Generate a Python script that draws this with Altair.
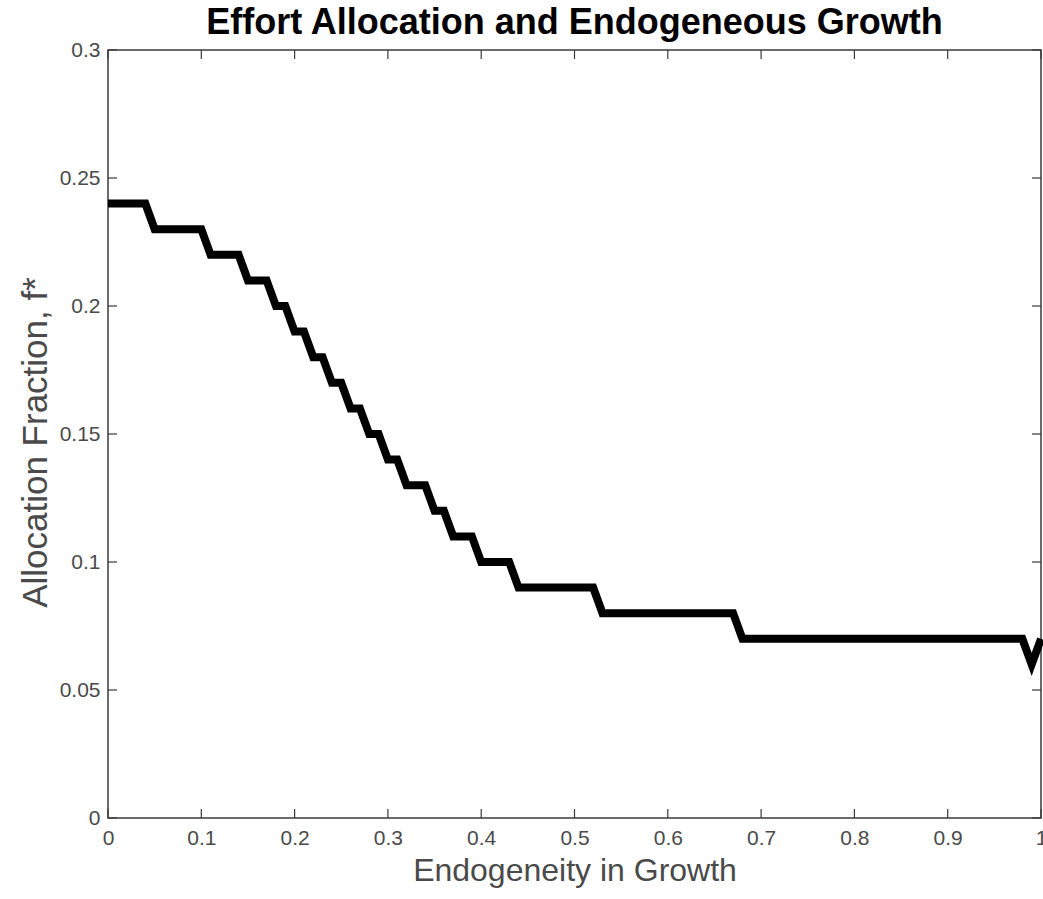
import altair as alt
import pandas as pd

# Sampled grid of endogeneity values (step 0.01)
endogeneity = [round(i / 100, 2) for i in range(101)]

# Allocation fraction f*
allocation = (
    [0.24] * 5 + [0.23] * 6 + [0.22] * 4 + [0.21] * 3 +
    [0.20] * 2 + [0.19] * 2 + [0.18] * 2 + [0.17] * 2 + [0.16] * 2 +
    [0.15] * 2 + [0.14] * 2 + [0.13] * 3 + [0.12] * 2 + [0.11] * 3 +
    [0.10] * 4 + [0.09] * 9 + [0.08] * 15 + [0.07] * 31 + [0.06] * 1 + [0.07] * 1
)

x_ticks = [0, 0.1, 0.2, 0.3, 0.4, 0.5, 0.6, 0.7, 0.8, 0.9, 1]
y_ticks = [0, 0.05, 0.1, 0.15, 0.2, 0.25, 0.3]

W, H = 933, 768
TICK = 9
AX = "#3a3a3a"
LBL = "#4a4a4a"
FONT = "Liberation Sans"

df = pd.DataFrame({"x": endogeneity, "y": allocation})
dfx = pd.DataFrame({"t": x_ticks})
dfy = pd.DataFrame({"t": y_ticks})

xscale = alt.Scale(domain=[0, 1], nice=False, zero=False)
yscale = alt.Scale(domain=[0, 0.3], nice=False, zero=False)

xaxis = alt.Axis(title="Endogeneity in Growth", values=x_ticks, format="~g",
                 ticks=False, domain=False, grid=False, labelPadding=9,
                 labelFontSize=21, labelColor=LBL, labelFont=FONT,
                 titleFontSize=32, titleFont=FONT, titleFontWeight="normal",
                 titleColor=LBL, titleY=62, titleBaseline="alphabetic",
                 labelFlush=False)
yaxis = alt.Axis(title="Allocation Fraction, f*", values=y_ticks, format="~g",
                 ticks=False, domain=False, grid=False, labelPadding=8,
                 labelFontSize=21, labelColor=LBL, labelFont=FONT,
                 titleFontSize=35, titleFont=FONT, titleFontWeight="normal",
                 titleColor=LBL, titleX=-73, titleY=392, titleBaseline="middle",
                 labelFlush=False)

line = alt.Chart(df).mark_line(color="black", strokeWidth=8, clip=False).encode(
    x=alt.X("x:Q", scale=xscale, axis=xaxis),
    y=alt.Y("y:Q", scale=yscale, axis=yaxis),
)

tick_style = dict(color=AX, strokeWidth=1.2)

bottom_ticks = alt.Chart(dfx).mark_rule(**tick_style).encode(
    x=alt.X("t:Q", scale=xscale, axis=xaxis), y=alt.value(H), y2=alt.value(H - TICK))
top_ticks = alt.Chart(dfx).mark_rule(**tick_style).encode(
    x=alt.X("t:Q", scale=xscale, axis=xaxis), y=alt.value(0), y2=alt.value(TICK))
left_ticks = alt.Chart(dfy).mark_rule(**tick_style).encode(
    y=alt.Y("t:Q", scale=yscale, axis=yaxis), x=alt.value(0), x2=alt.value(TICK))
right_ticks = alt.Chart(dfy).mark_rule(**tick_style).encode(
    y=alt.Y("t:Q", scale=yscale, axis=yaxis), x=alt.value(W), x2=alt.value(W - TICK))

chart = alt.layer(line, bottom_ticks, top_ticks, left_ticks, right_ticks).properties(
    width=W, height=H,
    title=alt.Title("Effort Allocation and Endogeneous Growth", fontSize=36,
                    fontWeight="bold", font=FONT, color="black", anchor="middle",
                    offset=-3),
    autosize=alt.AutoSizeParams(type="none"),
    padding={"left": 108, "top": 50, "right": 2, "bottom": 81},
).configure(background="white").configure_view(stroke=AX, strokeWidth=1.5)

chart.save("out.html", embed_options={"renderer": "svg", "actions": False})
